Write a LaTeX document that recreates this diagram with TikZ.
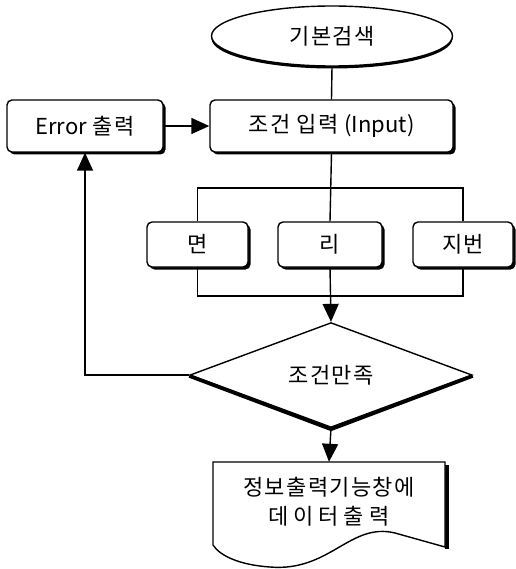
\documentclass[tikz,border=0pt]{standalone}
\usepackage{fontspec}
\setmainfont{Noto Sans CJK KR}[LetterSpace=6]
\newfontfamily\widefont{Noto Sans CJK KR}[LetterSpace=22]
\newfontfamily\latinfont{Noto Sans CJK KR}
\usetikzlibrary{shapes.geometric,arrows.meta,shadows}

\tikzset{
  base/.style={draw, line width=1.4pt, fill=white, inner sep=0pt,
    font=\fontsize{22}{28}\selectfont},
  boxshadow/.style={drop shadow={shadow xshift=2.5pt, shadow yshift=-2.5pt,
    opacity=1, fill=black}},
  procbox/.style={base, rectangle, rounded corners=5pt, boxshadow},
  terminal/.style={base, ellipse, drop shadow={shadow xshift=0pt,
    shadow yshift=-2.5pt, opacity=1, fill=black}},
  decision/.style={base, diamond},
  heavyedge/.style={line width=3.5pt, line join=round},
  link/.style={line width=1.4pt},
  arrowlink/.style={link, -{Triangle[length=18pt, width=16pt]}},
}

\begin{document}
\begin{tikzpicture}[x=1pt, y=-1pt]
  \useasboundingbox (0,0) rectangle (515,569);

  % start terminal and input step
  \node[terminal, minimum width=241pt, minimum height=60pt] (start) at (332,36) {기본검색};
  \node[procbox, minimum width=243pt, minimum height=52pt] (input) at (331.5,126)
    {조건 입력 {\latinfont (Input)}};
  \node[procbox, minimum width=156pt, minimum height=52pt] (err) at (85,126)
    {{\latinfont Error}\hspace{6pt}출력};

  % the three search keys
  \node[procbox, minimum width=101pt, minimum height=45pt] (myeon) at (197.5,244.5) {면};
  \node[procbox, minimum width=104pt, minimum height=45pt] (ri) at (330,244.5) {리};
  \node[procbox, minimum width=100pt, minimum height=45pt] (jibeon) at (463,244.5) {지번};
  \coordinate (brT) at (330,188);
  \coordinate (brB) at (330,296);

  % condition check, with heavy lower edges
  \node[decision, minimum width=282pt, minimum height=70pt] (cond) at (331,375) {조건만족};
  \draw[heavyedge] ([yshift=-1pt]cond.west) -- ([yshift=-1.2pt]cond.south) -- ([yshift=-1pt]cond.east);

  % output document
  \node[inner sep=0pt, minimum width=232pt, minimum height=86pt] (doc) at (329,505) {};
  \draw[line width=3.5pt] (447,465) -- (447,549);
  \draw[line width=1.4pt, fill=white]
    (213,462) -- (445,462) -- (445,547) -- (395,533)
    .. controls (350,522) and (330,572) .. (270,567)
    .. controls (240,565) and (220,556) .. (213,545) -- cycle;
  \node[font=\fontsize{22}{29}\selectfont, align=center] (doctext) at (329,502)
    {정보출력기능창에\\{\widefont 데이터출력}};

  % connectors
  \draw[link] (start.south) -- (input.north);
  \draw[arrowlink] (err.east) -- (input.west);
  \draw[link] (input.south) -- (ri.north);
  \draw[link] (myeon.north) |- (brT) -| (jibeon.north);
  \draw[link] (myeon.south) |- (brB) -| (jibeon.south);
  \draw[arrowlink] (ri.south) -- (cond.north);
  \draw[arrowlink] (cond.west) -| (err.south);
  \draw[arrowlink] (cond.south) -- (doc.north);
\end{tikzpicture}
\end{document}
